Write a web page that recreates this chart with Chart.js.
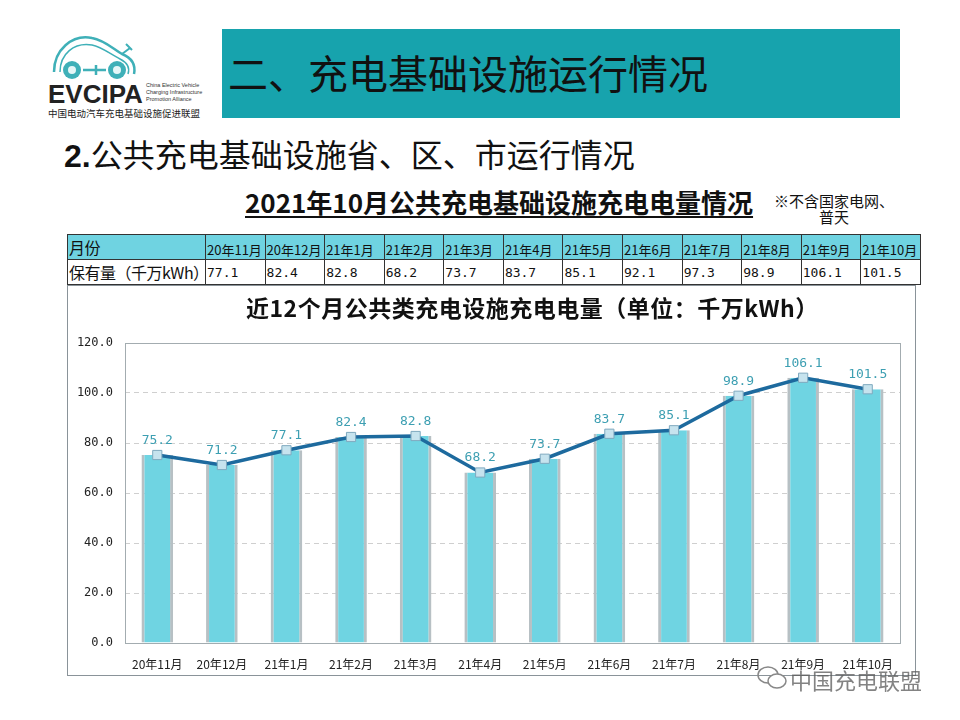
<!DOCTYPE html>
<html>
<head>
<meta charset="utf-8">
<script src="https://cdn.jsdelivr.net/npm/chart.js@4/dist/chart.umd.min.js"></script>
<style>
    body { margin: 0; width: 960px; height: 720px; background: #fff; position: relative; overflow: hidden;
           font-family: "Noto Sans CJK SC", "Noto Sans", sans-serif; color: #111; }
    .abs { position: absolute; white-space: nowrap; }
    #banner { left: 222px; top: 29px; width: 678px; height: 89px; background: #17a3ad; }
    #banner span { position: absolute; left: 6px; top: 17px; font-size: 40px; line-height: 52px; color: #111; }
    #sub { left: 64px; top: 132px; font-size: 32px; line-height: 42px; }
    #sub b { font-family: "Liberation Sans", sans-serif; }
    #head { left: 245px; top: 185px; font-size: 26px; font-weight: bold; line-height: 34px;
            text-decoration: underline; text-underline-offset: 3px; }
    #note { left: 774px; top: 193px; font-size: 15px; line-height: 16px; text-align: center; }
    table { position: absolute; left: 67px; top: 234px; width: 854px; border-collapse: collapse; table-layout: fixed; }
    td { border: 1px solid #333; padding: 0 1px; height: 23px; font-size: 13px; overflow: hidden; white-space: nowrap; }
    tr.top td { background: #6fd3e1; vertical-align: bottom; }
    td.lab { font-size: 16px; letter-spacing: -0.5px; }
    td.num { font-family: "DejaVu Sans Mono", monospace; font-size: 13px; }
    #box { left: 67px; top: 285px; width: 847px; height: 389px; border: 1px solid #8a9399; }
    #ctitle { left: 246px; top: 292px; font-size: 23px; font-weight: bold; line-height: 30px; letter-spacing: 0.5px; }
    #wm { left: 790px; top: 663px; font-size: 22px; color: rgba(90,90,90,0.75); }
</style>
</head>
<body>
<!-- logo -->
<svg class="abs" style="left:38px;top:28px" width="170" height="95" viewBox="0 0 170 95">
    <path d="M16 44 C16 22 34 6 54 10 C66 12 74 20 84 26 C94 30 98 36 96 46" fill="none" stroke="#3fb0b8" stroke-width="2.5"/>
    <path d="M22 44 C22 26 36 14 54 17 C64 19 72 26 82 31 C90 35 92 40 90 46" fill="none" stroke="#3fb0b8" stroke-width="1.5"/>
    <path d="M84 26 L92 20 M94 22 L88 16" stroke="#3fb0b8" stroke-width="2"/>
    <circle cx="34" cy="42" r="9" fill="#3fb0b8"/>
    <circle cx="79" cy="42" r="9" fill="#3fb0b8"/>
    <circle cx="34" cy="42" r="4" fill="#e6f6f7"/>
    <circle cx="79" cy="42" r="4" fill="#e6f6f7"/>
    <path d="M45 42 L68 42 M58 37 L58 47" stroke="#3fb0b8" stroke-width="2.5"/>
    <text x="10" y="75" font-family="Liberation Sans, sans-serif" font-weight="bold" font-size="26" fill="#222">EVCIPA</text>
    <text x="108" y="59" font-family="Liberation Sans, sans-serif" font-size="5.5" fill="#333">China Electric Vehicle</text>
    <text x="108" y="66" font-family="Liberation Sans, sans-serif" font-size="5.5" fill="#333">Charging Infrastructure</text>
    <text x="108" y="73" font-family="Liberation Sans, sans-serif" font-size="5.5" fill="#333">Promotion Alliance</text>
    <text x="10" y="89" font-family="Noto Sans CJK SC, sans-serif" font-size="9.5" fill="#222">中国电动汽车充电基础设施促进联盟</text>
</svg>

<div id="banner" class="abs"><span>二、充电基础设施运行情况</span></div>
<div id="sub" class="abs"><b>2.</b>公共充电基础设施省、区、市运行情况</div>
<div id="head" class="abs">2021年10月公共充电基础设施充电电量情况</div>
<div id="note" class="abs">※不含国家电网、<br>普天</div>

<table id="tbl">
    <colgroup><col style="width:138px"></colgroup>
    <tr class="top" id="rowMonths"><td class="lab">月份</td></tr>
    <tr id="rowVals"><td class="lab">保有量（千万kWh）</td></tr>
</table>

<div id="box" class="abs"></div>
<canvas id="chart" class="abs" style="left:67px;top:285px" width="848" height="390"></canvas>
<div id="ctitle" class="abs">近12个月公共类充电设施充电电量（单位：千万kWh）</div>
<svg class="abs" style="left:756px;top:664px" width="32" height="28" viewBox="0 0 32 28">
    <ellipse cx="12" cy="11" rx="10" ry="8" fill="none" stroke="#888" stroke-width="1.5"/>
    <ellipse cx="21" cy="17" rx="9" ry="7" fill="#fff" stroke="#888" stroke-width="1.5"/>
</svg>
<div id="wm" class="abs">中国充电联盟</div>

<script>
// 月份
const months = ['20年11月', '20年12月', '21年1月', '21年2月', '21年3月', '21年4月',
                '21年5月', '21年6月', '21年7月', '21年8月', '21年9月', '21年10月'];
// 图表数值（千万kWh）
const chartValues = [75.2, 71.2, 77.1, 82.4, 82.8, 68.2, 73.7, 83.7, 85.1, 98.9, 106.1, 101.5];
// 表格数值
const tableValues = [77.1, 82.4, 82.8, 68.2, 73.7, 83.7, 85.1, 92.1, 97.3, 98.9, 106.1, 101.5];
// y轴刻度
const yTicks = [0, 20, 40, 60, 80, 100, 120];

// 表格
const rowMonths = document.getElementById('rowMonths');
const rowVals = document.getElementById('rowVals');
months.forEach((m, i) => {
    rowMonths.insertAdjacentHTML('beforeend', `<td>${m}</td>`);
    rowVals.insertAdjacentHTML('beforeend', `<td class="num">${tableValues[i].toFixed(1)}</td>`);
});

// 绘图区边框
const frame = {
    id: 'frame',
    beforeDatasetsDraw(chart) {
        const a = chart.chartArea, ctx = chart.ctx;
        ctx.save();
        ctx.strokeStyle = '#a3acb0';
        ctx.lineWidth = 1;
        ctx.strokeRect(a.left + 0.5, a.top + 0.5, a.right - a.left, a.bottom - a.top);
        ctx.restore();
    }
};

// 数据标签
const pointLabels = {
    id: 'pointLabels',
    afterDatasetsDraw(chart) {
        const meta = chart.getDatasetMeta(1), ctx = chart.ctx;
        ctx.save();
        ctx.font = '13px "DejaVu Sans Mono", monospace';
        ctx.fillStyle = '#3d9fb2';
        ctx.textAlign = 'center';
        ctx.textBaseline = 'bottom';
        meta.data.forEach((pt, i) => {
            ctx.fillText(chartValues[i].toFixed(1), pt.x, pt.y - 8);
        });
        ctx.restore();
    }
};

new Chart(document.getElementById('chart'), {
    data: {
        labels: months,
        datasets: [{
            type: 'line',
            data: chartValues,
            borderColor: '#1d6a9e',
            borderWidth: 3.5,
            pointStyle: 'rect',
            pointRadius: 6.5,
            pointBackgroundColor: '#c6e3ee',
            pointBorderColor: '#7fa9bf',
            pointBorderWidth: 1,
            order: 0
        }, {
            type: 'bar',
            data: chartValues,
            backgroundColor: '#6fd4e2',
            borderColor: '#b7c0c4',
            borderWidth: { left: 3, right: 3, top: 0, bottom: 0 },
            borderSkipped: false,
            categoryPercentage: 0.49,
            barPercentage: 1,
            order: 1
        }]
    },
    options: {
        responsive: false,
        animation: false,
        layout: { padding: { left: 10, right: 15, top: 58, bottom: 4 } },
        plugins: { legend: { display: false }, tooltip: { enabled: false }, title: { display: false } },
        scales: {
            x: {
                grid: { display: false },
                border: { display: false },
                ticks: { color: '#222', font: { family: '"Noto Sans CJK SC", sans-serif', size: 12 }, padding: 6, maxRotation: 0 },
                afterFit(scale) { scale.height = 28; }
            },
            y: {
                min: 0,
                max: 120,
                afterBuildTicks(scale) { scale.ticks = yTicks.map(v => ({ value: v })); },
                grid: { color: '#cfcfcf', drawTicks: false },
                border: { display: false, dash: [5, 4] },
                ticks: {
                    color: '#222',
                    font: { family: '"DejaVu Sans Mono", monospace', size: 12 },
                    padding: 12,
                    callback: v => v.toFixed(1)
                },
                afterFit(scale) { scale.width = 48; }
            }
        }
    },
    plugins: [frame, pointLabels]
});
</script>
</body>
</html>
